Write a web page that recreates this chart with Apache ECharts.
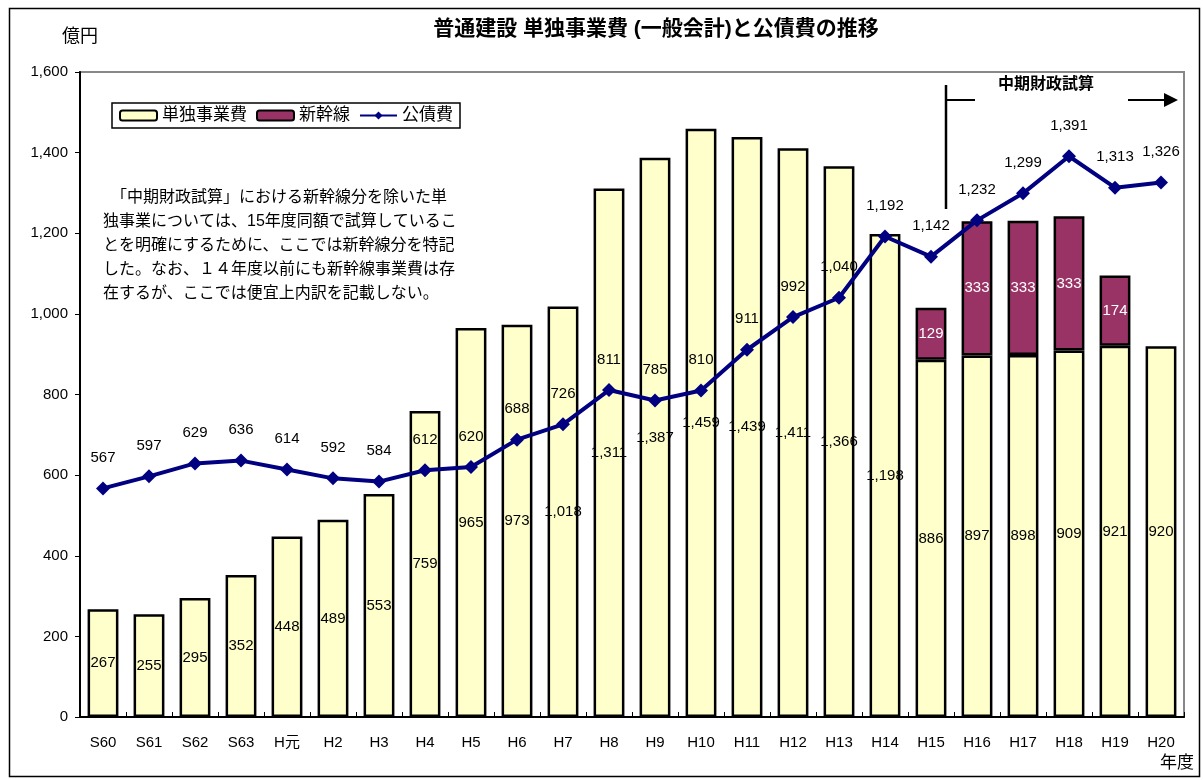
<!DOCTYPE html>
<html>
<head>
<meta charset="utf-8">
<script src="https://cdn.jsdelivr.net/npm/echarts@6/dist/echarts.min.js"></script>
<style>
  html, body { margin: 0; padding: 0; background: #fff; }
  #chart { width: 1203px; height: 780px; }
</style>
</head>
<body>
<div id="chart"></div>
<script>
// 年度
const years = ['S60', 'S61', 'S62', 'S63', 'H元', 'H2', 'H3', 'H4', 'H5', 'H6', 'H7', 'H8',
  'H9', 'H10', 'H11', 'H12', 'H13', 'H14', 'H15', 'H16', 'H17', 'H18', 'H19', 'H20'];
// 単独事業費 (億円)
const tandoku = [267, 255, 295, 352, 448, 489, 553, 759, 965, 973, 1018, 1311,
  1387, 1459, 1439, 1411, 1366, 1198, 886, 897, 898, 909, 921, 920];
// 新幹線 (H15-H19 only)
const shinkansen = [null, null, null, null, null, null, null, null, null, null, null, null,
  null, null, null, null, null, null, 129, 333, 333, 333, 174, null];
// 公債費
const kousaihi = [567, 597, 629, 636, 614, 592, 584, 612, 620, 688, 726, 811,
  785, 810, 911, 992, 1040, 1192, 1142, 1232, 1299, 1391, 1313, 1326];

const FONT = '"Liberation Sans", "Noto Sans CJK JP", sans-serif';
const fmt = v => Number(v).toLocaleString('en-US');

const chart = echarts.init(document.getElementById('chart'));

chart.setOption({
  animation: false,
  textStyle: { fontFamily: FONT },
  title: {
    text: '普通建設 単独事業費 (一般会計)と公債費の推移',
    left: 651, top: 14, textAlign: 'center',
    textStyle: { fontSize: 21, fontWeight: 'bold', color: '#000', fontFamily: FONT }
  },
  legend: {
    left: 112, top: 103,
    padding: [4, 7, 4, 7],
    borderColor: '#000', borderWidth: 1.5,
    itemGap: 9, itemWidth: 37, itemHeight: 10,
    textStyle: { fontSize: 17, color: '#000' },
    data: ['単独事業費', '新幹線', '公債費']
  },
  grid: {
    left: 80, right: 19, top: 72, bottom: 63,
    show: true, borderColor: '#888', borderWidth: 2, backgroundColor: 'transparent'
  },
  xAxis: {
    type: 'category',
    data: years,
    axisLine: { lineStyle: { color: '#000', width: 2 } },
    axisTick: { show: true, inside: true, length: 5, lineStyle: { color: '#000' } },
    axisLabel: { fontSize: 15, color: '#000', margin: 18 }
  },
  yAxis: {
    type: 'value',
    min: 0, max: 1600, interval: 200,
    name: '億円',
    nameLocation: 'end',
    nameGap: 26,
    nameTextStyle: { fontSize: 18, color: '#000', align: 'left', padding: [0, 0, 0, -18] },
    splitLine: { show: false },
    axisLine: { show: true, lineStyle: { color: '#000', width: 2 } },
    axisTick: { show: true, length: 5, lineStyle: { color: '#000' } },
    axisLabel: { fontSize: 15, color: '#000', margin: 12, formatter: v => fmt(v) }
  },
  series: [
    {
      name: '単独事業費',
      type: 'bar',
      stack: 'total',
      data: tandoku,
      barWidth: '67%',
      itemStyle: { color: '#FFFFCC', borderColor: '#000', borderWidth: 2.5 },
      label: {
        show: true, position: 'inside', fontSize: 15, color: '#000',
        formatter: p => fmt(p.value)
      },
      z: 2
    },
    {
      name: '新幹線',
      type: 'bar',
      stack: 'total',
      data: shinkansen,
      barWidth: '67%',
      itemStyle: { color: '#993366', borderColor: '#000', borderWidth: 2.5 },
      label: {
        show: true, position: 'inside', fontSize: 15, color: '#fff',
        formatter: p => fmt(p.value)
      },
      z: 2
    },
    {
      name: '公債費',
      type: 'line',
      data: kousaihi,
      symbol: 'diamond',
      symbolSize: 14,
      lineStyle: { color: '#000080', width: 4 },
      itemStyle: { color: '#000080' },
      label: {
        show: true, position: 'top', distance: 16, fontSize: 15, color: '#000',
        formatter: p => fmt(p.value)
      },
      z: 5
    }
  ],
  graphic: [
    // outer frame
    { type: 'rect', left: 7, top: 6, shape: { width: 1190, height: 768 },
      style: { fill: null, stroke: '#000', lineWidth: 1.5 }, silent: true },
    // 年度
    { type: 'text', left: 1160, top: 755,
      style: { text: '年度', font: '17px ' + FONT, fill: '#000' } },
    // annotation
    { type: 'text', left: 103, top: 186,
      style: {
        text: '　「中期財政試算」における新幹線分を除いた単\n独事業については、15年度同額で試算しているこ\nとを明確にするために、ここでは新幹線分を特記\nした。なお、１４年度以前にも新幹線事業費は存\n在するが、ここでは便宜上内訳を記載しない。',
        font: '16px ' + FONT, fill: '#000', lineHeight: 24
      } },
    // 中期財政試算 bracket
    { type: 'line', shape: { x1: 946, y1: 85, x2: 946, y2: 209 },
      style: { stroke: '#000', lineWidth: 2.5 } },
    { type: 'line', shape: { x1: 946, y1: 100, x2: 975, y2: 100 },
      style: { stroke: '#000', lineWidth: 2 } },
    { type: 'text', left: 998, top: 77,
      style: { text: '中期財政試算', font: 'bold 16px ' + FONT, fill: '#000' } },
    { type: 'line', shape: { x1: 1128, y1: 100, x2: 1166, y2: 100 },
      style: { stroke: '#000', lineWidth: 2 } },
    { type: 'polygon', shape: { points: [[1164, 93], [1178, 100], [1164, 107]] },
      style: { fill: '#000' } }
  ]
});
</script>
</body>
</html>
